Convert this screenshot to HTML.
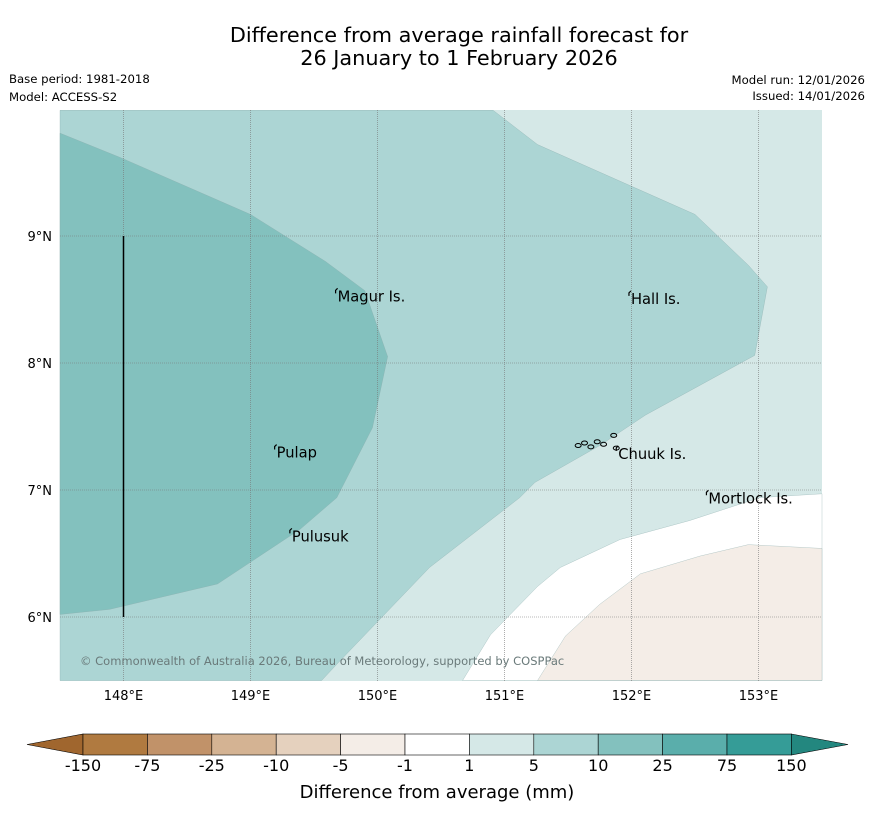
<!DOCTYPE html>
<html><head><meta charset="utf-8"><style>
body{margin:0;background:#fff;width:873px;height:816px;overflow:hidden;font-family:"DejaVu Sans",sans-serif}
</style></head><body>
<svg id="chart" width="873" height="816" xmlns="http://www.w3.org/2000/svg" font-family="DejaVu Sans, sans-serif">
<text x="459" y="42" font-size="20.8" text-anchor="middle">Difference from average rainfall forecast for</text>
<text x="459" y="65" font-size="20.8" text-anchor="middle">26 January to 1 February 2026</text>
<text x="9" y="83" font-size="11.7">Base period: 1981-2018</text>
<text x="9" y="101" font-size="11.7">Model: ACCESS-S2</text>
<text x="865" y="84" font-size="11.7" text-anchor="end">Model run: 12/01/2026</text>
<text x="865" y="100" font-size="11.7" text-anchor="end">Issued: 14/01/2026</text>
<g id="map"></g>
<g id="cbar"></g>
<text x="437" y="798" font-size="18" text-anchor="middle">Difference from average (mm)</text>
</svg>
<script>
const lonTicks=[148,149,150,151,152,153];
const latTicks=[6,7,8,9];
const midRegion=[[147.5,9.99],[150.91,9.99],[151.26,9.72],[152.5,9.17],[152.92,8.77],[153.07,8.60],[152.97,8.06],[152.11,7.59],[151.75,7.35],[151.24,7.06],[151.12,6.94],[150.41,6.39],[149.70,5.65],[149.56,5.5],[147.5,5.5]];
const darkRegion=[[147.5,9.81],[147.97,9.62],[149.0,9.17],[149.59,8.80],[149.90,8.57],[150.08,8.05],[149.96,7.49],[149.68,6.94],[149.39,6.69],[148.74,6.26],[147.89,6.06],[147.5,6.02]];
const whiteRegion=[[150.67,5.5],[150.89,5.86],[151.26,6.24],[151.44,6.39],[151.91,6.61],[152.46,6.76],[153.01,6.94],[153.5,6.97],[153.5,5.5]];
const beigeRegion=[[151.26,5.5],[151.48,5.85],[151.75,6.10],[152.07,6.34],[152.54,6.48],[152.92,6.57],[153.5,6.54],[153.5,5.5]];
const islandNames=["Magur Is.","Hall Is.","Pulap","Chuuk Is.","Mortlock Is.","Pulusuk"];
const islandLon=[149.67,151.98,149.19,151.88,152.59,149.31];
const islandLat=[8.58,8.56,7.35,7.34,6.99,6.69];
const chuukLon=[151.58,151.63,151.68,151.73,151.78,151.86,151.88];
const chuukLat=[7.35,7.37,7.34,7.38,7.36,7.43,7.33];
const cbarLabels=["-150","-75","-25","-10","-5","-1","1","5","10","25","75","150"];
const cbarColors=["#b07a40","#c19269","#d4b393","#e5d1be","#f4ede7","#ffffff","#d5e8e7","#acd5d4","#83c1be","#5aaeab","#359c97"];
const x=lon=>60+(lon-147.5)*127;
const y=lat=>236+(9-lat)*127;
const NS="http://www.w3.org/2000/svg";
const map=document.getElementById('map');
function mk(tag,attrs,parent){const e=document.createElementNS(NS,tag);for(const k in attrs)e.setAttribute(k,attrs[k]);parent.appendChild(e);return e;}
const bg=mk('rect',{x:60,y:110,width:762,height:571,fill:'#d5e8e7'},map);


function poly(pts,fill,name){const p=mk('polygon',{points:pts.map(d=>x(d[0])+','+y(d[1])).join(' '),fill:fill,stroke:'#8aa',"stroke-width":0.3},map);

}
poly(midRegion,'#acd5d4','region-5-10mm');
poly(darkRegion,'#83c1be','region-10-25mm');
poly(whiteRegion,'#ffffff','region-neutral');
poly(beigeRegion,'#f4ede7','region-minus5-minus1mm');
lonTicks.forEach(l=>{const g=mk('line',{x1:x(l),x2:x(l),y1:110,y2:681,stroke:'#777',"stroke-width":0.6,"stroke-dasharray":'1,1'},map);


const t=mk('text',{x:x(l),y:700,"font-size":13,"text-anchor":'middle'},map);t.textContent=l+'°E';

});
latTicks.forEach(l=>{const g=mk('line',{x1:60,x2:822,y1:y(l),y2:y(l),stroke:'#777',"stroke-width":0.6,"stroke-dasharray":'1,1'},map);


const t=mk('text',{x:52,y:y(l)+5,"font-size":13,"text-anchor":'end'},map);t.textContent=l+'°N';

});
const vl=mk('line',{x1:x(148),x2:x(148),y1:y(9),y2:y(6),stroke:'#000',"stroke-width":1.5},map);


chuukLon.forEach((lo,i)=>{const c=mk('ellipse',{cx:x(lo),cy:y(chuukLat[i]),rx:3,ry:2,fill:'none',stroke:'#000',"stroke-width":1},map);

});
islandNames.forEach((n,i)=>{const m=mk('path',{d:`M${x(islandLon[i])},${y(islandLat[i])+4} l0,-3 l2,-2`,stroke:'#000',fill:'none',"stroke-width":1.2},map);


const t=mk('text',{x:x(islandLon[i])+2,y:y(islandLat[i])+12,"font-size":14.7},map);t.textContent=n;

});
const cp=mk('text',{x:80,y:665,"font-size":11.5,fill:'#6a7a7a'},map);cp.textContent='© Commonwealth of Australia 2026, Bureau of Meteorology, supported by COSPPac';


const cb=document.getElementById('cbar');
const cx0=83,cw=64.4,cy=734,ch=21;
const lt=mk('polygon',{points:`27,744.5 ${cx0},${cy} ${cx0},${cy+ch}`,fill:'#a0662e',stroke:'#000',"stroke-width":0.6},cb);


cbarColors.forEach((c,i)=>{const r=mk('rect',{x:cx0+i*cw,y:cy,width:cw,height:ch,fill:c,stroke:'#000',"stroke-width":0.6},cb);

});
const xe=cx0+cbarColors.length*cw;
const rt=mk('polygon',{points:`${xe},${cy} 848,744.5 ${xe},${cy+ch}`,fill:'#23877f',stroke:'#000',"stroke-width":0.6},cb);


cbarLabels.forEach((l,i)=>{const t=mk('text',{x:cx0+i*cw,y:771,"font-size":16,"text-anchor":'middle'},cb);t.textContent=l;

});
</script>
</body></html>
